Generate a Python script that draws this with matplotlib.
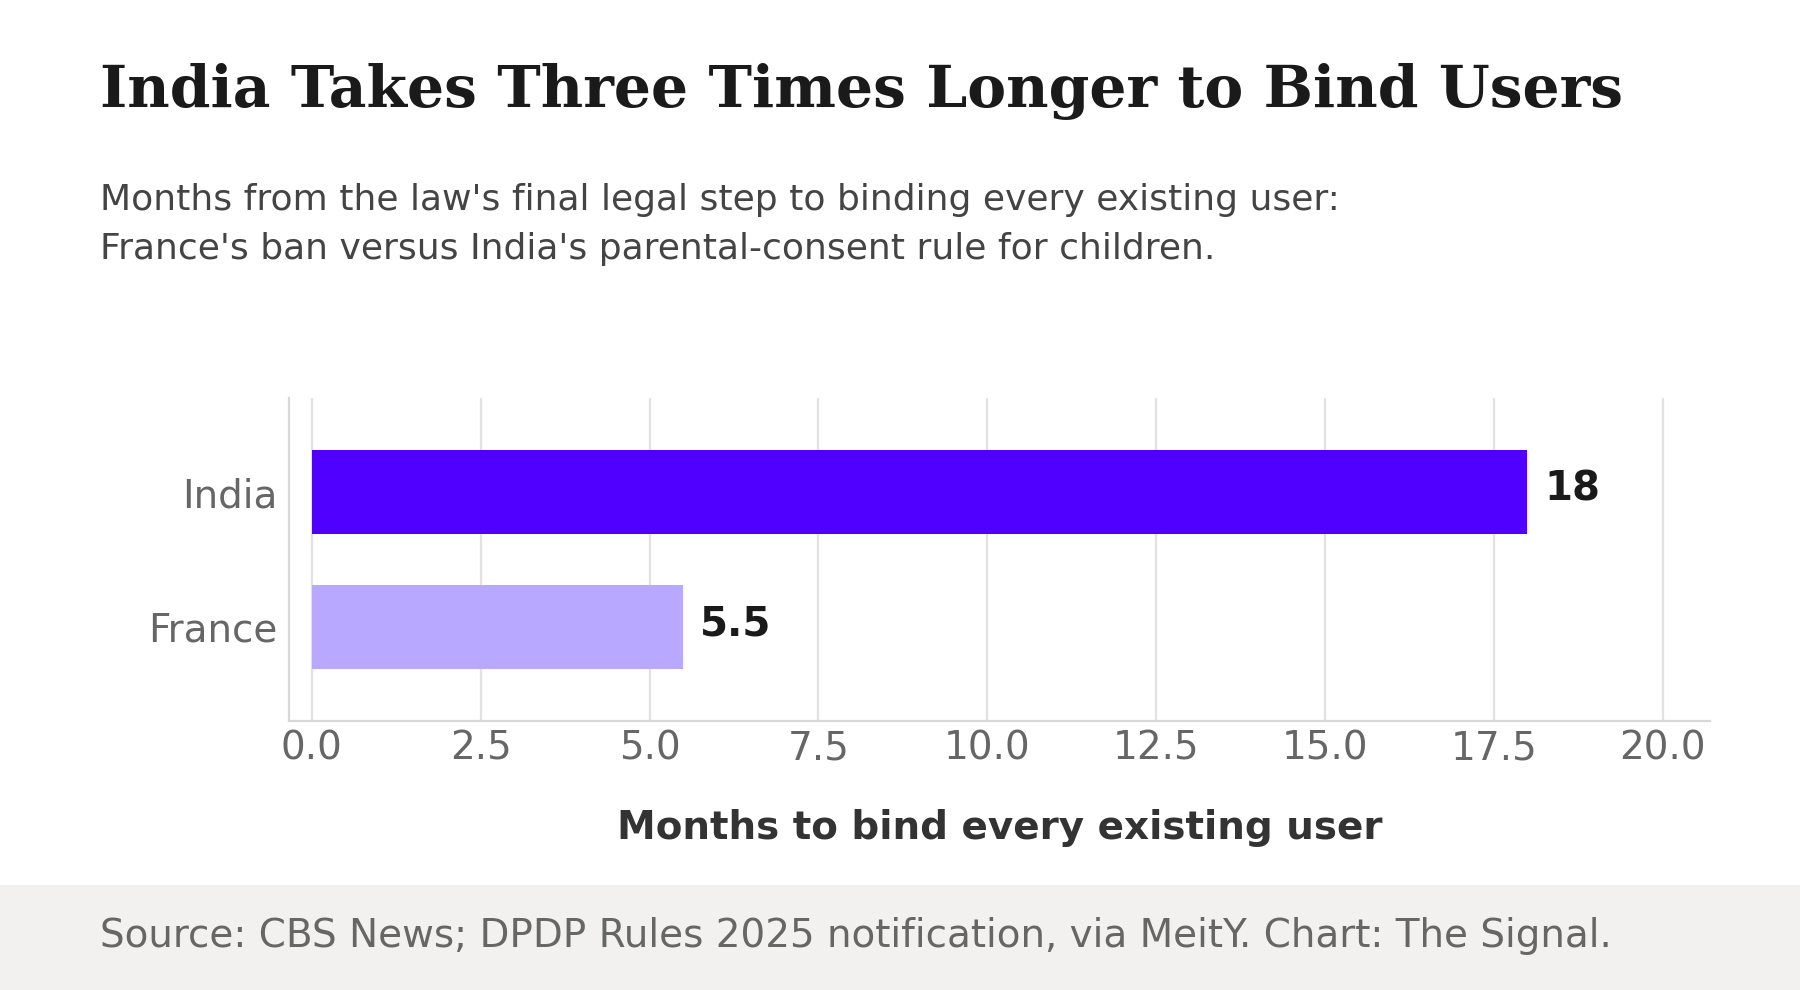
import matplotlib

matplotlib.use("Agg")
import matplotlib.pyplot as plt
from matplotlib.patches import Rectangle

# データ
countries = ["France", "India"]
months = [5.5, 18]
value_labels = ["5.5", "18"]
bar_colors = ["#b8a8ff", "#5000ff"]
xticks = [0.0, 2.5, 5.0, 7.5, 10.0, 12.5, 15.0, 17.5, 20.0]

title = "India Takes Three Times Longer to Bind Users"
subtitle = ["Months from the law's final legal step to binding every existing user:",
            "France's ban versus India's parental-consent rule for children."]
xlabel = "Months to bind every existing user"
source = "Source: CBS News; DPDP Rules 2025 notification, via MeitY. Chart: The Signal."

plt.rcParams["font.family"] = ["DejaVu Sans"]

fig = plt.figure(figsize=(9, 4.95), dpi=200)
fig.patch.set_facecolor("white")

# フッター帯
fig.patches.append(Rectangle((0, 0), 1, 0.106, transform=fig.transFigure,
                             facecolor="#f2f1f0", edgecolor="none", zorder=0))

ax = fig.add_axes([0.1605, 0.2717, 0.7894, 0.3263])
ypos = list(range(len(countries)))
ax.barh(ypos, months, height=0.62, color=bar_colors, zorder=3)
for y, v, lab in zip(ypos, months, value_labels):
    ax.annotate(lab, (v, y), xytext=(6, 1), textcoords="offset points",
                ha="left", va="center", fontsize=14.5, fontweight="bold", color="#1a1a1a")

ax.set_xlim(-0.34, 20.7)
ax.set_ylim(-0.7, 1.7)
ax.set_yticks(ypos)
ax.set_yticklabels(countries)
ax.set_xticks(xticks)
ax.set_xticklabels([f"{t:.1f}" for t in xticks])
ax.tick_params(axis="both", length=0, labelsize=14, labelcolor="#666666")
ax.tick_params(axis="y", pad=4)
ax.tick_params(axis="x", pad=3)
ax.grid(axis="x", color="#e3e2df", lw=0.8, zorder=0)
ax.grid(axis="y", visible=False)
for side in ["top", "right"]:
    ax.spines[side].set_visible(False)
for side in ["left", "bottom"]:
    ax.spines[side].set_color("#d9d8d4")
    ax.spines[side].set_linewidth(0.8)
ax.set_xlabel(xlabel, fontsize=14, fontweight="bold", color="#333333", labelpad=15)

fig.text(0.0555, 0.892, title, family="DejaVu Serif", fontweight="bold",
         fontsize=21, color="#1a1a1a", va="baseline")
fig.text(0.0555, 0.788, subtitle[0], fontsize=13, color="#444444", va="baseline")
fig.text(0.0555, 0.738, subtitle[1], fontsize=13, color="#444444", va="baseline")
fig.text(0.0555, 0.043, source, fontsize=14, color="#666666", va="baseline")

fig.savefig("out.png", dpi=200)
